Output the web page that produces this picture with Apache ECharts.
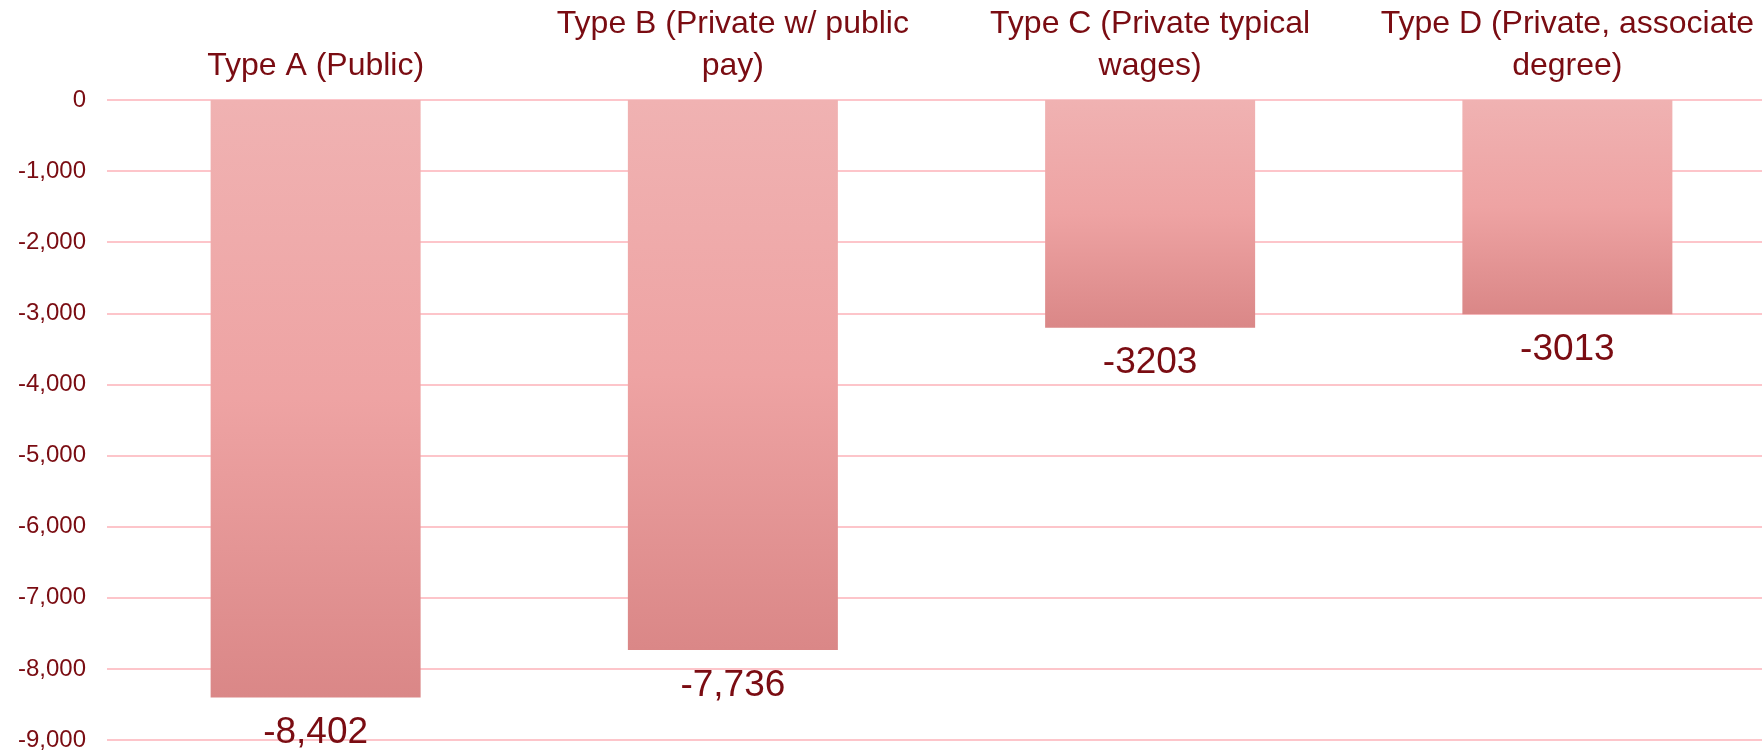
<!DOCTYPE html>
<html>
<head>
<meta charset="utf-8">
<style>
  html, body { margin: 0; padding: 0; background: #ffffff; }
  #chart { width: 1762px; height: 753px; }
</style>
<script src="https://cdn.jsdelivr.net/npm/echarts@6/dist/echarts.min.js"></script>
</head>
<body>
<div id="chart"></div>
<script>
const categories = ['Type A (Public)', 'Type B (Private w/ public pay)', 'Type C (Private typical wages)', 'Type D (Private, associate degree)'];
const tickLabels = ['Type A (Public)', 'Type B (Private w/ public\npay)', 'Type C (Private typical\nwages)', 'Type D (Private, associate\ndegree)'];
const values = [-8402, -7736, -3203, -3013];
const valueLabels = ['-8,402', '-7,736', '-3203', '-3013'];

const textColor = '#7a0c12';
const gridColor = '#fdc5ca';

const chart = echarts.init(document.getElementById('chart'), null, { renderer: 'canvas' });
chart.setOption({
  animation: false,
  backgroundColor: '#ffffff',
  textStyle: { fontFamily: 'Liberation Sans, Arial, sans-serif' },
  grid: { left: 107, top: 100, width: 1669, height: 640, outerBoundsMode: 'none', containLabel: false },
  xAxis: {
    type: 'category',
    position: 'top',
    data: categories,
    axisLine: { show: false },
    axisTick: { show: false },
    splitLine: { show: false },
    axisLabel: {
      interval: 0,
      margin: 13,
      color: textColor,
      fontSize: 32,
      lineHeight: 42,
      fontFamily: 'Liberation Sans, Arial, sans-serif',
      formatter: function (v, i) { return tickLabels[i]; }
    }
  },
  yAxis: {
    type: 'value',
    min: -9000,
    max: 0,
    interval: 1000,
    axisLine: { show: false },
    axisTick: { show: false },
    splitLine: { show: true, lineStyle: { color: gridColor, width: 2 } },
    axisLabel: {
      margin: 21,
      color: textColor,
      fontSize: 24,
      fontFamily: 'Liberation Sans, Arial, sans-serif',
      formatter: function (v) { return v === 0 ? '0' : v.toLocaleString('en-US'); }
    }
  },
  series: [{
    type: 'bar',
    data: values,
    barWidth: 210,
    itemStyle: {
      color: new echarts.graphic.LinearGradient(0, 0, 0, 1, [
        { offset: 0, color: '#f0b2b2' },
        { offset: 0.5, color: '#eea3a3' },
        { offset: 1, color: '#da8787' }
      ])
    },
    label: {
      show: true,
      position: 'bottom',
      distance: 17,
      color: textColor,
      fontSize: 37,
      fontFamily: 'Liberation Sans, Arial, sans-serif',
      formatter: function (p) { return valueLabels[p.dataIndex]; }
    }
  }]
});
</script>
</body>
</html>
